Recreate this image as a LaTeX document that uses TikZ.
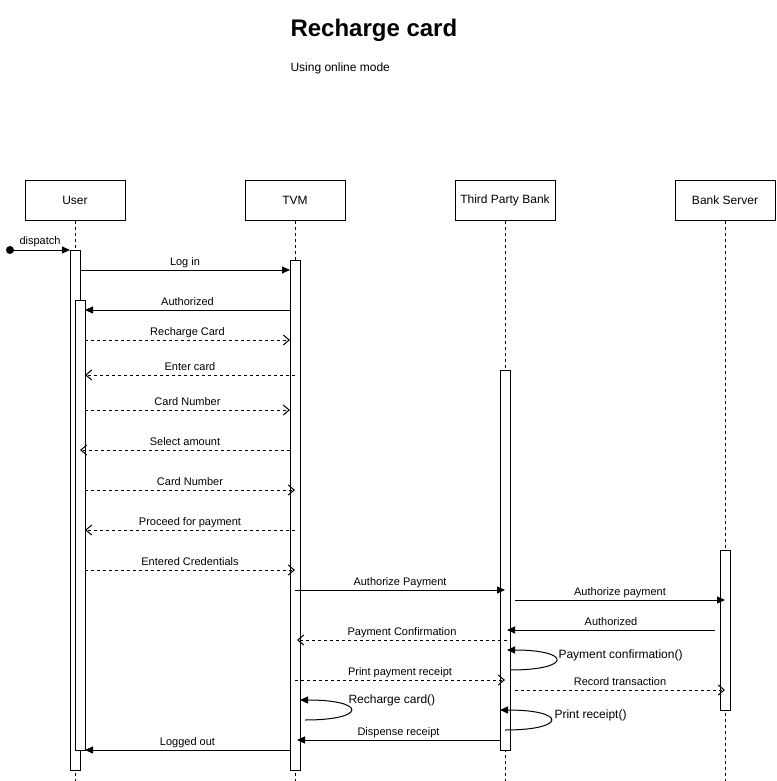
\documentclass[tikz,border=0pt]{standalone}
\usepackage{fontspec}
\setmainfont{Liberation Sans}
\usetikzlibrary{arrows.meta}
\begin{document}
\begin{tikzpicture}[x=1pt,y=-1pt,line width=1pt,
  head/.style={draw, minimum width=100pt, minimum height=40pt, inner sep=0pt, font=\fontsize{12}{14}\selectfont},
  act/.style={draw, fill=white, minimum width=10pt, inner sep=0pt},
  life/.style={dash pattern=on 3pt off 3pt},
  msg/.style={-{Triangle[length=8pt,width=7pt]}},
  ret/.style={dash pattern=on 3pt off 3pt, -{Straight Barb[length=6pt,width=10pt]}},
  lbl/.style={font=\fontsize{11}{13}\selectfont, inner sep=0pt, anchor=base, yshift=5pt},
  slbl/.style={font=\fontsize{12}{14}\selectfont, inner sep=0pt, anchor=west}]
\useasboundingbox (0,0) rectangle (776,781);
% title
\node[anchor=west, inner sep=0pt, font=\bfseries\fontsize{24}{28}\selectfont] (title) at (290,30) {Recharge card};
\node[anchor=west, inner sep=0pt, font=\fontsize{12}{14}\selectfont] (sub) at (290,68) {Using online mode};
% heads
\node[head] (user) at (75,200) {User};
\node[head] (tvm) at (295,200) {TVM};
\node[head] (tpb) at (505,200) {Third Party Bank};
\node[head] (bs) at (725,200) {Bank Server};
% lifelines
\coordinate (userEnd) at (75,781);
\coordinate (tvmEnd) at (295,781);
\coordinate (tpbEnd) at (505,781);
\coordinate (bsEnd) at (725,781);
\draw[life] (user.south) -- (userEnd);
\draw[life] (tvm.south) -- (tvmEnd);
\draw[life] (tpb.south) -- (tpbEnd);
\draw[life] (bs.south) -- (bsEnd);
% activations
\node[act, minimum height=520pt] (uA) at (75,510) {};
\node[act, minimum height=450pt] (uB) at (80,525) {};
\node[act, minimum height=510pt] (tA) at (295,515) {};
\node[act, minimum height=380pt] (pA) at (505,560) {};
\node[act, minimum height=160pt] (sA) at (725,630) {};
% dispatch
\fill (10,250) circle (4pt) coordinate (start);
\draw[msg] (start) -- node[lbl, yshift=1pt]{dispatch} (70,250) coordinate (d1);
% messages
\draw[msg] (80,270) coordinate (m1a) -- node[lbl]{Log in} (290,270) coordinate (m1b);
\draw[msg] (290,310) coordinate (m2a) -- node[lbl]{Authorized} (85,310) coordinate (m2b);
\draw[ret] (85,340) coordinate (m3a) -- node[lbl]{Recharge Card} (290,340) coordinate (m3b);
\draw[ret] (295,375) coordinate (m4a) -- node[lbl]{Enter card} (85,375) coordinate (m4b);
\draw[ret] (85,410) coordinate (m5a) -- node[lbl]{Card Number} (290,410) coordinate (m5b);
\draw[ret] (290,450) coordinate (m6a) -- node[lbl]{Select amount} (80,450) coordinate (m6b);
\draw[ret] (85,490) coordinate (m7a) -- node[lbl]{Card Number} (295,490) coordinate (m7b);
\draw[ret] (295,530) coordinate (m8a) -- node[lbl]{Proceed for payment} (85,530) coordinate (m8b);
\draw[ret] (85,570) coordinate (m9a) -- node[lbl]{Entered Credentials} (295,570) coordinate (m9b);
\draw[msg] (295,590) coordinate (m10a) -- node[lbl]{Authorize Payment} (505,590) coordinate (m10b);
\draw[msg] (515,600) coordinate (m11a) -- node[lbl]{Authorize payment} (725,600) coordinate (m11b);
\draw[msg] (715,630) coordinate (m12a) -- node[lbl]{Authorized} (507,630) coordinate (m12b);
\draw[ret] (507,640) coordinate (m13a) -- node[lbl]{Payment Confirmation} (297,640) coordinate (m13b);
\draw[msg] (510,670) coordinate (s1a) .. controls (572,670) and (572,650) .. (507,650) coordinate (s1b);
\node[slbl] (s1l) at (558,655) {Payment confirmation()};
\draw[ret] (295,680) coordinate (m15a) -- node[lbl]{Print payment receipt} (505,680) coordinate (m15b);
\draw[ret] (515,690) coordinate (m16a) -- node[lbl]{Record transaction} (725,690) coordinate (m16b);
\draw[msg] (305,720) coordinate (s2a) .. controls (367,720) and (367,700) .. (300,700) coordinate (s2b);
\node[slbl] (s2l) at (348,700) {Recharge card()};
\draw[msg] (505,730) coordinate (s3a) .. controls (567,730) and (567,710) .. (500,710) coordinate (s3b);
\node[slbl] (s3l) at (554,715) {Print receipt()};
\draw[msg] (500,740) coordinate (m19a) -- node[lbl]{Dispense receipt} (297,740) coordinate (m19b);
\draw[msg] (290,750) coordinate (m20a) -- node[lbl]{Logged out} (85,750) coordinate (m20b);
\end{tikzpicture}
\end{document}
